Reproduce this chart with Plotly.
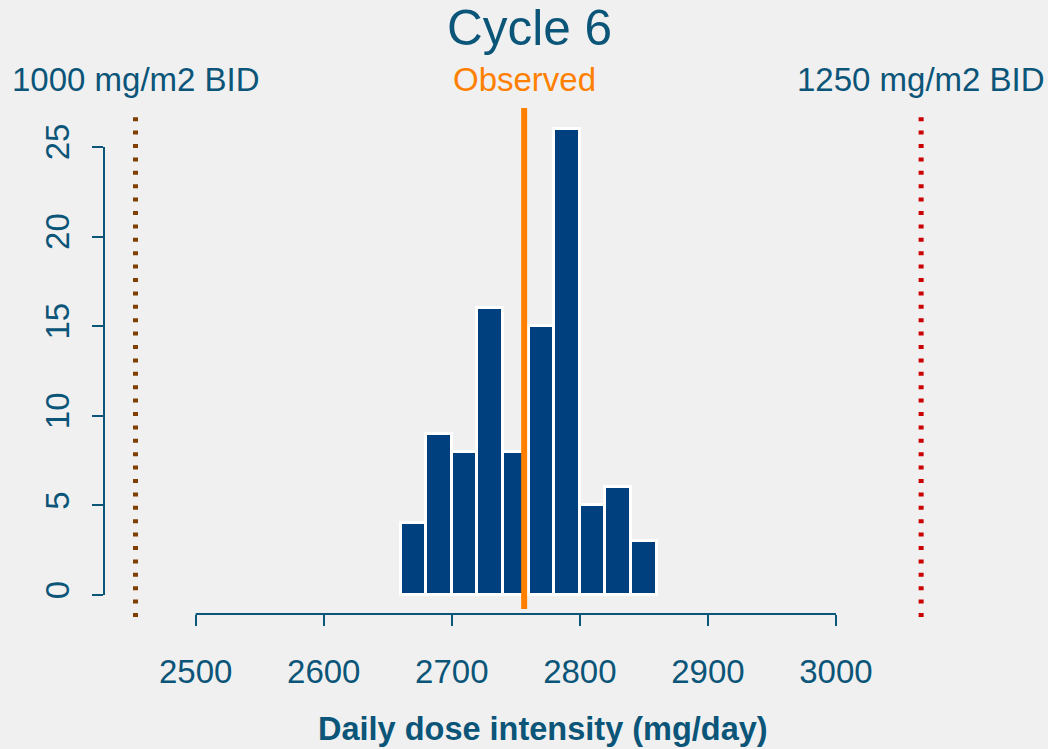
import plotly.graph_objects as go

# Histogram of daily dose intensity, cycle 6
bin_left = [2660, 2680, 2700, 2720, 2740, 2760, 2780, 2800, 2820, 2840]
bin_width = 20
counts = [4, 9, 8, 16, 8, 15, 26, 5, 6, 3]

# Reference dose levels and the observed value (mg/day)
ref_low = 2453.0      # 1000 mg/m2 BID
ref_high = 3066.5     # 1250 mg/m2 BID
observed = 2756.5

x_ticks = [2500, 2600, 2700, 2800, 2900, 3000]
y_ticks = [0, 5, 10, 15, 20, 25]

TEAL = "#0B5579"
BAR = "#00407F"
ORANGE = "#FF8000"
BROWN = "#7F3F00"
RED = "#CC0000"
BG = "#F0F0F0"
FONT = "Liberation Sans, Arial, sans-serif"

centers = [b + bin_width / 2 for b in bin_left]

fig = go.Figure()
fig.add_trace(go.Bar(
    x=centers, y=counts, width=[bin_width] * len(counts),
    marker=dict(color=BAR, line=dict(color="white", width=3)),
    hoverinfo="x+y", showlegend=False,
))

# Vertical reference lines
fig.add_shape(type="line", xref="x", yref="paper", x0=ref_low, x1=ref_low, y0=-0.006, y1=1.0,
              line=dict(color=BROWN, width=5, dash="4px,9.4px"))
fig.add_shape(type="line", xref="x", yref="paper", x0=ref_high, x1=ref_high, y0=-0.006, y1=1.0,
              line=dict(color=RED, width=5, dash="4px,9.4px"))
fig.add_shape(type="line", xref="x", yref="paper", x0=observed, x1=observed, y0=0.01, y1=1.004,
              line=dict(color=ORANGE, width=6))

# Axis lines limited to the tick span
fig.add_shape(type="line", xref="x", yref="paper", x0=x_ticks[0], x1=x_ticks[-1], y0=0, y1=0,
              line=dict(color=TEAL, width=2))
fig.add_shape(type="line", xref="paper", yref="y", x0=0, x1=0, y0=y_ticks[0], y1=y_ticks[-1],
              line=dict(color=TEAL, width=2))

H_PLOT = 504.0
def py(pix):
    # pixel row -> paper y (plot area spans rows 110..614)
    return (614 - pix) / H_PLOT

def px(pix):
    # pixel column -> paper x (plot area spans columns 104..958)
    return (pix - 104) / 854.0

fig.add_annotation(text="Cycle 6", xref="paper", x=px(529), yref="paper", y=py(28),
                   xanchor="center", yanchor="middle", showarrow=False,
                   font=dict(family=FONT, size=49.5, color=TEAL))
fig.add_annotation(text="1000 mg/m2 BID", xref="x", x=ref_low, yref="paper", y=py(79.5),
                   xanchor="center", yanchor="middle", showarrow=False,
                   font=dict(family=FONT, size=33, color=TEAL))
fig.add_annotation(text="Observed", xref="x", x=observed, yref="paper", y=py(79.5),
                   xanchor="center", yanchor="middle", showarrow=False,
                   font=dict(family=FONT, size=33, color=ORANGE))
fig.add_annotation(text="1250 mg/m2 BID", xref="x", x=ref_high, yref="paper", y=py(79.5),
                   xanchor="center", yanchor="middle", showarrow=False,
                   font=dict(family=FONT, size=33, color=TEAL))
fig.add_annotation(text="<b>Daily dose intensity (mg/day)</b>", xref="paper", x=px(543.3),
                   yref="paper", y=py(729), xanchor="center", yanchor="middle", showarrow=False,
                   font=dict(family=FONT, size=32.5, color=TEAL))

fig.update_layout(
    width=1048, height=749,
    margin=dict(l=104, r=90, t=110, b=135, pad=0),
    paper_bgcolor=BG, plot_bgcolor=BG,
    font=dict(family=FONT, color=TEAL),
    bargap=0,
    xaxis=dict(range=[2428.4, 3095.3], tickvals=x_ticks, ticktext=[str(v) for v in x_ticks],
               ticks="outside", ticklen=11, tickwidth=2, tickcolor=TEAL,
               showgrid=False, zeroline=False, showline=False,
               tickfont=dict(family=FONT, size=33, color=TEAL), ticklabelstandoff=17),
    yaxis=dict(range=[-1.06, 27.06], tickvals=y_ticks, ticktext=[str(v) for v in y_ticks],
               ticks="outside", ticklen=11, tickwidth=2, tickcolor=TEAL, tickangle=-90,
               showgrid=False, zeroline=False, showline=False,
               tickfont=dict(family=FONT, size=33, color=TEAL), ticklabelstandoff=10),
)

fig.write_html("out.html")
